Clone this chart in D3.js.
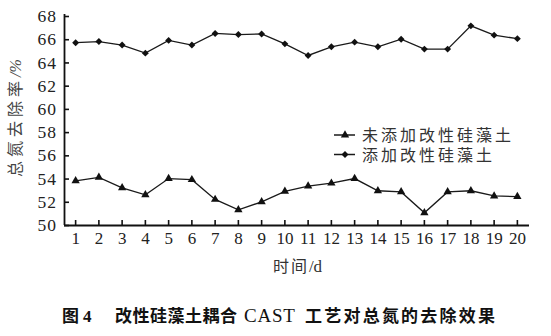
<!DOCTYPE html>
<html><head><meta charset="utf-8">
<script src="https://cdn.jsdelivr.net/npm/d3@7"></script>
<style>
html,body{margin:0;padding:0;background:#fff;}
svg{display:block;}
</style></head>
<body>
<svg id="chart" width="551" height="336"></svg>
<script>
const days = d3.range(1, 21);
const yTicks = [50, 52, 54, 56, 58, 60, 62, 64, 66, 68];
const seriesNames = ["未添加改性硅藻土", "添加改性硅藻土"];
const withoutDiatomite = [53.8, 54.1, 53.2, 52.6, 54.0, 53.9, 52.2, 51.3, 52.0, 52.9, 53.35, 53.6, 54.0, 52.95, 52.85, 51.05, 52.85, 52.95, 52.5, 52.45];
const withDiatomite = [65.7, 65.8, 65.5, 64.8, 65.9, 65.5, 66.5, 66.4, 66.45, 65.6, 64.6, 65.35, 65.75, 65.35, 66.0, 65.15, 65.15, 67.15, 66.35, 66.05];
const yTitle = "总氮去除率";
const yUnit = "/%";
const xTitle = "时间";
const xUnit = "/d";
const caption = ["图", "4", "改性硅藻土耦合", "CAST", "工艺对总氮的去除效果"];

const svg = d3.select("#chart");
const mLeft = 64, mRight = 529, mTop = 16, mBottom = 225;
const serif = "'Liberation Serif','Times New Roman',serif";
const cjk = "'Liberation Serif','Noto Sans CJK SC',serif";

const x = d3.scaleBand().domain(days).range([mLeft, mRight]);
const cx = d => x(d) + x.bandwidth() / 2;
const y = d3.scaleLinear().domain([50, 68]).range([mBottom, mTop]);

// x axis
const gx = svg.append("g").attr("transform", `translate(0,${mBottom})`)
  .call(d3.axisBottom(x).tickSizeInner(-5).tickSizeOuter(0).tickPadding(7));
gx.select(".domain").attr("stroke", "#111").attr("stroke-width", 1.8)
  .attr("d", `M${mLeft},0.5H${mRight}`);
gx.selectAll(".tick line").attr("stroke", "#111").attr("stroke-width", 1.6);
gx.selectAll(".tick text").attr("font-family", serif).attr("font-size", 17).attr("fill", "#222");

// y axis
const gy = svg.append("g").attr("transform", `translate(${mLeft},0)`)
  .call(d3.axisLeft(y).tickValues(yTicks).tickSizeInner(-5).tickSizeOuter(0).tickPadding(7));
gy.select(".domain").attr("stroke", "#111").attr("stroke-width", 1.8)
  .attr("d", `M0.5,${mTop - 2}V${mBottom}`);
gy.selectAll(".tick line").attr("stroke", "#111").attr("stroke-width", 1.6);
gy.selectAll(".tick text").attr("font-family", serif).attr("font-size", 17.5).attr("fill", "#222")
  .attr("letter-spacing", 1);

// lines
const line = d3.line().x((d, i) => cx(days[i])).y(d => y(d));
const series = [withoutDiatomite, withDiatomite];
const symbols = [d3.symbol().type(d3.symbolTriangle).size(30), d3.symbol().type(d3.symbolSquare).size(24)];
const rot = [0, 45];
series.forEach((s, k) => {
  svg.append("path").datum(s).attr("d", line).attr("fill", "none")
    .attr("stroke", "#1a1a1a").attr("stroke-width", 1.3);
  svg.append("g").selectAll("path").data(s).join("path")
    .attr("d", symbols[k])
    .attr("transform", (d, i) => `translate(${cx(days[i])},${y(d)}) rotate(${rot[k]})`)
    .attr("fill", "#111");
});

// legend
const legY = [135, 154.5];
seriesNames.forEach((name, k) => {
  const g = svg.append("g").attr("transform", `translate(334,${legY[k]})`);
  g.append("line").attr("x1", 0).attr("x2", 21).attr("y1", 0).attr("y2", 0)
    .attr("stroke", "#1a1a1a").attr("stroke-width", 1.5);
  g.append("path").attr("d", symbols[k]).attr("transform", `translate(11,0) rotate(${rot[k]})`).attr("fill", "#111");
  g.append("text").attr("x", 28).attr("y", 6).attr("font-family", cjk).attr("font-size", 16)
    .attr("letter-spacing", 3).attr("fill", "#333").text(name);
});

// y title
const yt = svg.append("text").attr("transform", "translate(21,118) rotate(-90)")
  .attr("text-anchor", "middle").attr("font-size", 16).attr("fill", "#444")
  .attr("font-family", cjk);
yt.append("tspan").attr("letter-spacing", 4).text(yTitle);
yt.append("tspan").attr("font-family", serif).attr("font-style", "italic").text(yUnit);

// x title
const xt = svg.append("text").attr("x", (mLeft + mRight) / 2 + 1).attr("y", 272)
  .attr("text-anchor", "middle").attr("font-size", 16).attr("fill", "#333").attr("font-family", cjk);
xt.append("tspan").attr("letter-spacing", 2).text(xTitle);
xt.append("tspan").attr("font-family", serif).attr("font-size", 17).text(xUnit);

// caption
const cap = svg.append("g").attr("fill", "#111");
const capY = 322;
cap.append("text").attr("x", 62).attr("y", capY).attr("font-family", "'Noto Sans CJK SC',sans-serif")
  .attr("font-weight", "bold").attr("font-size", 17).text(caption[0]);
cap.append("text").attr("x", 83).attr("y", capY).attr("font-family", serif)
  .attr("font-weight", "bold").attr("font-size", 17).text(caption[1]);
cap.append("text").attr("x", 115).attr("y", capY).attr("font-family", "'Noto Sans CJK SC',sans-serif")
  .attr("font-weight", "bold").attr("font-size", 17).attr("textLength", 122).attr("lengthAdjust", "spacing").text(caption[2]);
cap.append("text").attr("x", 244).attr("y", capY).attr("font-family", serif)
  .attr("font-size", 19).attr("letter-spacing", 0.8).text(caption[3]);
cap.append("text").attr("x", 305).attr("y", capY).attr("font-family", "'Noto Sans CJK SC',sans-serif")
  .attr("font-weight", "bold").attr("font-size", 17).attr("textLength", 190).attr("lengthAdjust", "spacing").text(caption[4]);
</script>
</body></html>
